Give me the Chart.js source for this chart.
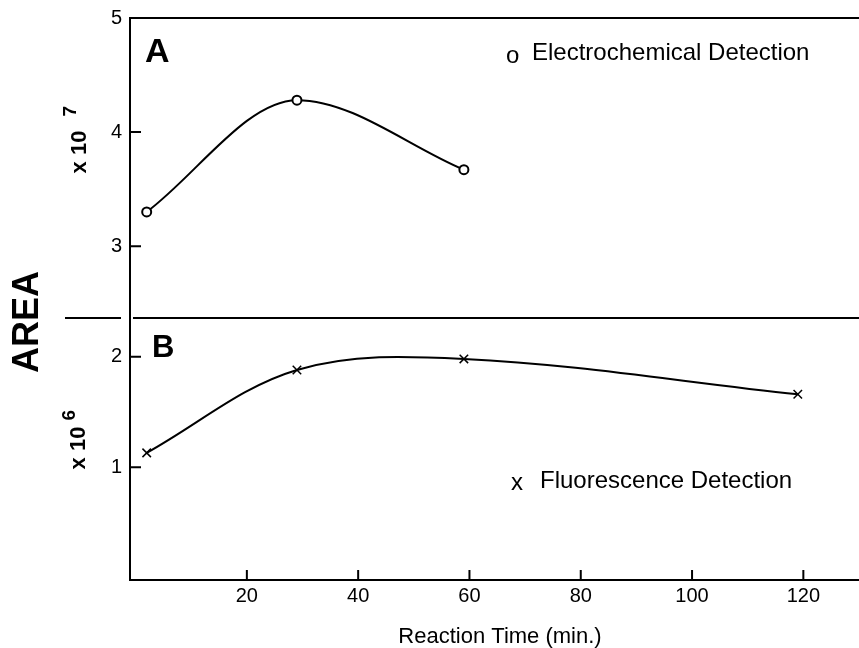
<!DOCTYPE html>
<html lang="en">
<head>
  <meta charset="UTF-8" />
  <title>Area vs Reaction Time</title>
  <script src="https://cdn.jsdelivr.net/npm/chart.js"></script>
  <style>
    body { margin: 0; background: #fff; }
    #wrap { position: relative; width: 859px; height: 648px; }
  </style>
</head>
<body>
  <div id="wrap"><canvas id="chart" width="859" height="648"></canvas></div>
  <script>
    // Reaction time (min.) and peak areas
    const ecTimes = [2, 29, 59];
    const ecArea = [3.3, 4.28, 3.67];          // x 10^7
    const flTimes = [2, 29, 59, 119];
    const flArea = [1.13, 1.88, 1.98, 1.66];   // x 10^6

    const xTicks = [20, 40, 60, 80, 100, 120];
    const yTicksA = [3, 4, 5];
    const yTicksB = [1, 2];

    const FONT = '"Liberation Sans", Arial, sans-serif';

    const keepTicks = list => scale => { scale.ticks = list.map(v => ({ value: v })); };

    // inward tick marks, divider, frame, labels
    const decor = {
      id: 'decor',
      afterDraw(chart) {
        const ctx = chart.ctx;
        const { x, yA, yB } = chart.scales;
        const area = chart.chartArea;
        ctx.save();
        ctx.strokeStyle = '#000';
        ctx.lineWidth = 2;
        ctx.beginPath();
        xTicks.forEach(v => {
          const px = x.getPixelForValue(v);
          ctx.moveTo(px, area.bottom); ctx.lineTo(px, area.bottom - 10);
        });
        [[yA, yTicksA], [yB, yTicksB]].forEach(([s, list]) => {
          list.forEach(v => {
            const py = s.getPixelForValue(v);
            ctx.moveTo(area.left, py); ctx.lineTo(area.left + 11, py);
          });
        });
        // top frame line
        ctx.moveTo(area.left, area.top); ctx.lineTo(chart.width, area.top);
        // divider between panels
        const div = yA.bottom;
        ctx.moveTo(65, div); ctx.lineTo(121, div);
        ctx.moveTo(133, div); ctx.lineTo(chart.width, div);
        ctx.stroke();

        ctx.fillStyle = '#000';
        // panel letters
        ctx.font = 'bold 34px ' + FONT;
        ctx.textAlign = 'left'; ctx.textBaseline = 'alphabetic';
        ctx.fillText('A', 145, 62);
        ctx.font = 'bold 31px ' + FONT;
        ctx.fillText('B', 152, 357);

        // legends
        ctx.font = '24px ' + FONT;
        ctx.textBaseline = 'middle';
        ctx.fillText('o', 506, 56);
        ctx.fillText('Electrochemical Detection', 532, 53);
        ctx.fillText('x', 511, 483);
        ctx.fillText('Fluorescence Detection', 540, 481);

        // x-axis title
        ctx.font = '22px ' + FONT;
        ctx.textAlign = 'center';
        ctx.fillText('Reaction Time (min.)', 500, 637);

        // rotated y labels
        const rot = (fn, cx, cy) => {
          ctx.save(); ctx.translate(cx, cy); ctx.rotate(-Math.PI / 2); fn(); ctx.restore();
        };
        rot(() => {
          ctx.font = 'bold 36px ' + FONT;
          ctx.textAlign = 'center';
          ctx.fillText('AREA', 0, 0);
        }, 28, 322);
        const sci = (exp, cx, cy, gap) => rot(() => {
          ctx.font = 'bold 22px ' + FONT;
          ctx.textAlign = 'left';
          const w = ctx.measureText('x 10').width;
          ctx.fillText('x 10', -w / 2 - 6, 0);
          ctx.font = 'bold 19px ' + FONT;
          ctx.fillText(exp, w / 2 + gap, -9);
        }, cx, cy);
        sci('7', 80, 146, 8);
        sci('6', 79, 442, 0);
        ctx.restore();
      }
    };

    new Chart(document.getElementById('chart'), {
      type: 'line',
      data: {
        datasets: [
          {
            label: 'Electrochemical Detection',
            data: ecTimes.map((t, i) => ({ x: t, y: ecArea[i] })),
            yAxisID: 'yA',
            borderColor: '#000', borderWidth: 2, fill: false,
            cubicInterpolationMode: 'monotone',
            pointStyle: 'circle', pointRadius: 4.5,
            pointBackgroundColor: '#fff', pointBorderColor: '#000', pointBorderWidth: 2
          },
          {
            label: 'Fluorescence Detection',
            data: flTimes.map((t, i) => ({ x: t, y: flArea[i] })),
            yAxisID: 'yB',
            borderColor: '#000', borderWidth: 2, fill: false, tension: 0.35,
            pointStyle: 'crossRot', pointRadius: 6,
            pointBorderColor: '#000', pointBorderWidth: 1.5
          }
        ]
      },
      options: {
        responsive: false,
        animation: false,
        layout: { autoPadding: false, padding: { top: 18, right: 0, left: 0, bottom: 0 } },
        plugins: { legend: { display: false }, tooltip: { enabled: false } },
        scales: {
          x: {
            type: 'linear', position: 'bottom', min: -1, max: 130,
            afterBuildTicks: keepTicks(xTicks),
            afterFit: s => { s.height = 68; s.paddingLeft = 0; s.paddingRight = 0; },
            grid: { drawOnChartArea: false, drawTicks: false },
            border: { color: '#000', width: 2 },
            ticks: { color: '#000', padding: 4, font: { family: FONT, size: 20 } }
          },
          yA: {
            type: 'linear', position: 'left', stack: 'area', stackWeight: 300, weight: 1,
            min: 2.37, max: 5,
            afterBuildTicks: keepTicks(yTicksA),
            afterFit: s => { s.width = 130; s.paddingTop = 0; s.paddingBottom = 0; },
            grid: { drawOnChartArea: false, drawTicks: false },
            border: { color: '#000', width: 2 },
            ticks: { color: '#000', padding: 8, font: { family: FONT, size: 20 } }
          },
          yB: {
            type: 'linear', position: 'left', stack: 'area', stackWeight: 262, weight: 0,
            min: -0.02, max: 2.35,
            afterBuildTicks: keepTicks(yTicksB),
            afterFit: s => { s.width = 130; s.paddingTop = 0; s.paddingBottom = 0; },
            grid: { drawOnChartArea: false, drawTicks: false },
            border: { color: '#000', width: 2 },
            ticks: { color: '#000', padding: 8, font: { family: FONT, size: 20 } }
          }
        }
      },
      plugins: [decor]
    });
  </script>
</body>
</html>
